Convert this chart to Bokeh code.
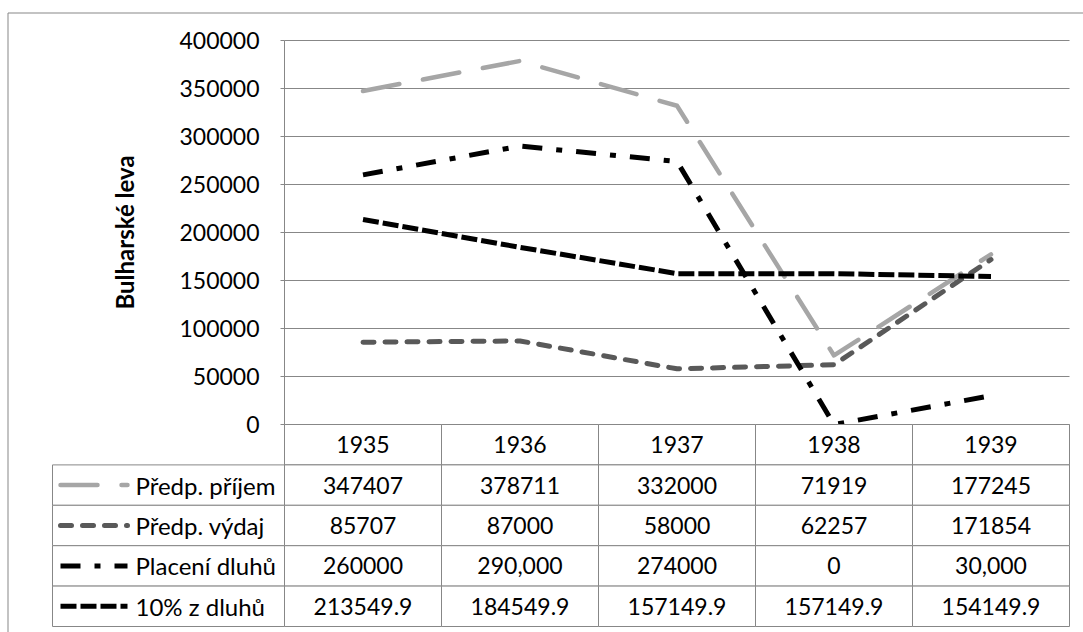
from bokeh.plotting import figure
from bokeh.models import Range1d, FixedTicker, NumeralTickFormatter, LinearAxis
from bokeh.embed import file_html
from bokeh.resources import INLINE
from bokeh.core.properties import value

# ---------------- data ----------------
years = ["1935", "1936", "1937", "1938", "1939"]
series_names = ["Předp. příjem", "Předp. výdaj", "Placení dluhů", "10% z dluhů"]
prijem = [347407, 378711, 332000, 71919, 177245]
vydaj = [85707, 87000, 58000, 62257, 171854]
placeni = [260000, 290000, 274000, 0, 30000]
deset = [213549.9, 184549.9, 157149.9, 157149.9, 154149.9]
table_prijem = ["347407", "378711", "332000", "71919", "177245"]
table_vydaj = ["85707", "87000", "58000", "62257", "171854"]
table_placeni = ["260000", "290,000", "274000", "0", "30,000"]
table_deset = ["213549.9", "184549.9", "157149.9", "157149.9", "154149.9"]
y_ticks = [0, 50000, 100000, 150000, 200000, 250000, 300000, 350000, 400000]
y_title = "Bulharské leva"

series_vals = [prijem, vydaj, placeni, deset]
table_rows = [table_prijem, table_vydaj, table_placeni, table_deset]

# ---------------- styles / layout (pixels of the page) ----------------
FONT = "Lato"
GRID = "#878787"
styles = [
    dict(color="#A6A6A6", width=4.5, dash="37 24", cap="round"),
    dict(color="#595959", width=5, dash="11 11", cap="round"),
    dict(color="#000000", width=5, dash="20 14 6 14", cap="butt"),
    dict(color="#000000", width=5, dash="16 4", cap="butt"),
]
CX0, CY0, W, H = 0, 0, 1083, 632          # canvas placement on the page
AXIS_X, COL_W = 284, 157.0                 # x = 0 and one category width
AXIS_Y, PX_50K = 424, 48.0                 # chart value 0 and px per 50000
TABLE_BOTTOM, ROW_H = 626, 40.4            # table bottom and row height
LEG_LEFT = 52
BORDER_X, BORDER_Y = 7.5, 12.5

def xd(px):
    return (px - AXIS_X) / COL_W

def yc(py):
    return (AXIS_Y - py) * 50000.0 / PX_50K

def yt(py):
    return (TABLE_BOTTOM - py) / ROW_H

n = len(years)
nr = len(series_names)
xs = [i + 0.5 for i in range(n)]

p = figure(width=W, height=H,
           x_range=Range1d(xd(CX0), xd(CX0 + W)),
           y_range=Range1d(yc(CY0 + H), yc(CY0)),
           x_axis_location=None, y_axis_location=None,
           output_backend="svg", toolbar_location=None,
           min_border=0, min_border_left=0, min_border_right=0,
           min_border_top=0, min_border_bottom=0)
p.extra_y_ranges = {"table": Range1d(yt(CY0 + H), yt(CY0))}
p.outline_line_color = None
for g in p.grid:
    g.visible = False

# horizontal gridlines of the plot area
p.segment(x0=[0] * len(y_ticks), y0=y_ticks, x1=[n] * len(y_ticks), y1=y_ticks,
          line_color=GRID, line_width=1)

# value axis
yax = LinearAxis(fixed_location=0, bounds=(y_ticks[0], y_ticks[-1]),
                 ticker=FixedTicker(ticks=y_ticks), formatter=NumeralTickFormatter(format="0"))
yax.axis_line_color = GRID
yax.major_tick_line_color = GRID
yax.major_tick_out = 4
yax.major_tick_in = 0
yax.minor_tick_line_color = None
yax.major_label_standoff = 21
yax.major_label_text_font = FONT
yax.major_label_text_font_size = "23px"
yax.major_label_text_color = "black"
yax.axis_label = y_title
yax.axis_label_text_font = FONT
yax.axis_label_text_font_size = "24px"
yax.axis_label_text_font_style = "bold"
yax.axis_label_text_color = "black"
yax.axis_label_standoff = 37
p.add_layout(yax, "left")

# series lines
for vals, st in zip(series_vals, styles):
    p.line(xs, vals, line_color=st["color"], line_width=st["width"],
           line_dash=st["dash"], line_cap=st["cap"], line_join="round")

# ---------------- data table ----------------
L = (AXIS_X - LEG_LEFT) / COL_W
# header row (years)
p.rect(x=xs, y=[nr + 0.5] * n, width=1, height=1, fill_color="white",
       line_color=GRID, line_width=1, y_range_name="table")
p.text(x=xs, y=[nr + 0.5] * n, text=years, text_font=value(FONT), text_font_size="23px",
       text_align="center", text_baseline="middle", text_color="black", y_range_name="table")

cx, cy, cw = [], [], []
for r in range(nr):
    cx.append(-L / 2); cy.append(nr - 0.5 - r); cw.append(L)
    for i in range(n):
        cx.append(i + 0.5); cy.append(nr - 0.5 - r); cw.append(1)
p.rect(x=cx, y=cy, width=cw, height=1, fill_color="white", line_color=GRID,
       line_width=1, y_range_name="table")

tx, ty, tt = [], [], []
for r, row in enumerate(table_rows):
    for i, s in enumerate(row):
        tx.append(i + 0.5); ty.append(nr - 0.5 - r); tt.append(s)
p.text(x=tx, y=ty, text=tt, text_font=value(FONT), text_font_size="23px",
       text_align="center", text_baseline="middle", text_color="black", y_range_name="table")

for r, st in enumerate(styles):
    yy = nr - 0.5 - r
    p.line([xd(60), xd(127)], [yy, yy], line_color=st["color"], line_width=st["width"],
           line_dash=st["dash"], line_cap=st["cap"], y_range_name="table")
p.text(x=[xd(135)] * nr, y=[nr - 0.5 - r for r in range(nr)], text=series_names,
       text_font=value(FONT), text_font_size="24px", text_align="left",
       text_baseline="middle", text_color="black", y_range_name="table")

# outer chart border (left and top edges)
p.line([xd(BORDER_X), xd(BORDER_X), xd(CX0 + W)],
       [yt(CY0 + H), yt(BORDER_Y), yt(BORDER_Y)], line_color=GRID, line_width=1,
       y_range_name="table")

open("out.html", "w").write(file_html(p, INLINE))
